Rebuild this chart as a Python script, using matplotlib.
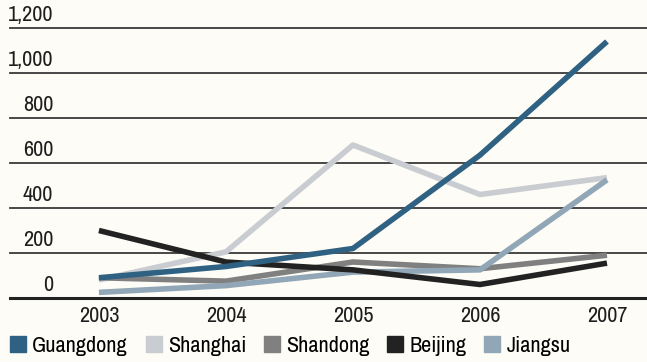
import matplotlib
matplotlib.use('Agg')
import matplotlib.pyplot as plt
from matplotlib.lines import Line2D
from matplotlib.transforms import blended_transform_factory, offset_copy

years = [2003, 2004, 2005, 2006, 2007]
guangdong = [90, 140, 220, 635, 1140]
shanghai = [80, 205, 680, 460, 535]
shandong = [90, 75, 160, 130, 190]
beijing = [300, 160, 125, 60, 155]
jiangsu = [25, 55, 115, 125, 525]

names = ['Guangdong', 'Shanghai', 'Shandong', 'Beijing', 'Jiangsu']
colors = ['#2f6183', '#c9cdd1', '#808080', '#222222', '#91a6b6']
series = [guangdong, shanghai, shandong, beijing, jiangsu]
zorders = [6, 3, 4, 5, 4.5]

yticks = [0, 200, 400, 600, 800, 1000, 1200]
ylabels = ['0', '200', '400', '600', '800', '1,000', '1,200']

font = 'Archivo Narrow'
fsize = 16
tcolor = '#1e1e1e'
bg = '#fdfcf6'

fig = plt.figure(figsize=(6.47, 3.62), dpi=100, facecolor=bg)
ax = fig.add_axes([10 / 647, 1 - 298 / 362, 637 / 647, 270 / 362], facecolor=bg)

for name, vals, c, z in zip(names, series, colors, zorders):
    ax.plot(years, vals, color=c, lw=4.0, solid_capstyle='butt', zorder=z, label=name)

ax.set_xlim(2002.30, 2007.315)
ax.set_ylim(0, 1200)

for v in yticks[1:]:
    ax.axhline(v, color='#3a3a3a', lw=1.3, zorder=1, clip_on=False)
ax.axhline(0, color='#222222', lw=2.2, zorder=7, clip_on=False)

trans = blended_transform_factory(ax.transAxes, ax.transData)
trans = offset_copy(trans, fig=fig, x=0, y=2, units='points')
for v, lab in zip(yticks, ylabels):
    ax.text(43 / 637, v, lab, transform=trans, ha='right', va='bottom',
            fontsize=fsize, family=font, color=tcolor)

for s in ax.spines.values():
    s.set_visible(False)
ax.set_yticks([])
ax.set_xticks(years)
ax.set_xticklabels([str(y) for y in years], family=font, fontsize=fsize, color=tcolor)
ax.tick_params(axis='x', length=0, pad=6)

handles = [Line2D([], [], marker='s', ls='none', markersize=12, color=c) for c in colors]
fig.legend(handles, names, loc='lower left', bbox_to_anchor=(-0.005, -0.02), ncol=5,
           frameon=False, handlelength=0.7, handletextpad=0.3, columnspacing=0.8,
           borderaxespad=0.2, prop={'family': font, 'size': fsize})

fig.savefig('out.png', dpi=100, facecolor=bg)
